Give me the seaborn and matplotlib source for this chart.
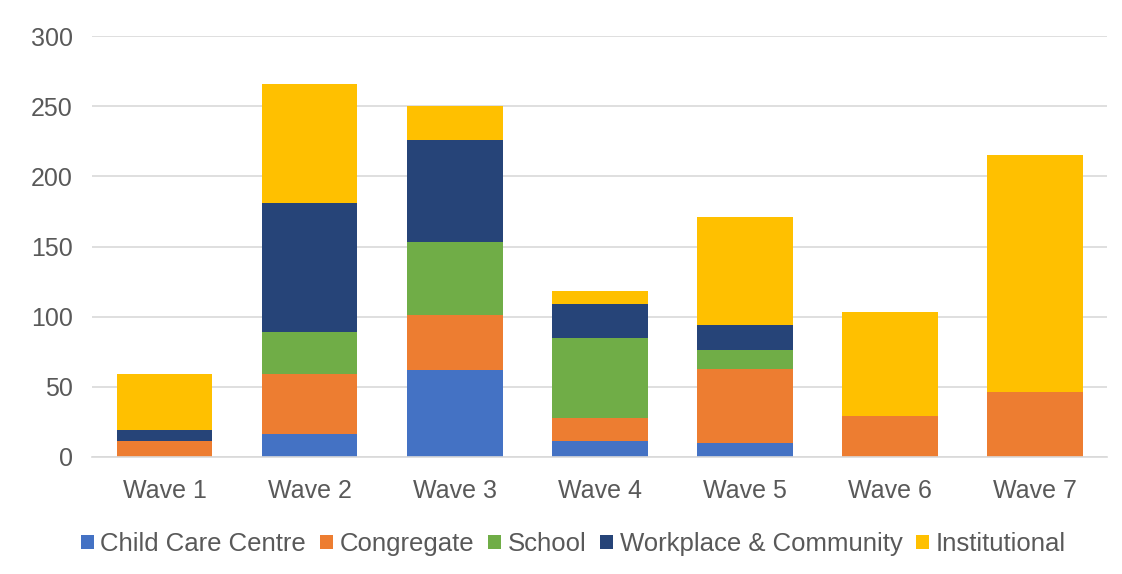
import numpy as np
import pandas as pd
import matplotlib
matplotlib.use("Agg")
import matplotlib.pyplot as plt
import seaborn as sns

# Values (outbreaks per wave by setting)
waves = ["Wave 1", "Wave 2", "Wave 3", "Wave 4", "Wave 5", "Wave 6", "Wave 7"]
child_care = [0, 16, 62, 11, 10, 0, 0]
congregate = [11, 43, 39, 17, 53, 29, 46]
school = [0, 30, 52, 57, 13, 0, 0]
workplace = [8, 92, 73, 24, 18, 0, 0]
institutional = [40, 85, 24, 9, 77, 74, 169]

series_names = ["Child Care Centre", "Congregate", "School",
                "Workplace & Community", "Institutional"]
colors = ["#4472C4", "#ED7D31", "#70AD47", "#264478", "#FFC000"]

sns.set_theme(style="white")
plt.rcParams["font.family"] = ["Liberation Sans", "DejaVu Sans"]

fig = plt.figure(figsize=(11.22, 5.74), dpi=100)
ax = fig.add_axes([0.082, 0.204, 0.905, 0.733])

bottom = np.zeros(len(waves))
for name, vals, col in zip(series_names,
                           [child_care, congregate, school, workplace, institutional],
                           colors):
    df = pd.DataFrame({"wave": waves, "value": vals})
    sns.barplot(data=df, x="wave", y="value", color=col, label=name,
                bottom=bottom, width=0.66, errorbar=None, ax=ax,
                saturation=1, linewidth=0)
    bottom = bottom + np.array(vals)

ax.set_ylim(0, 300)
ax.set_yticks(range(0, 301, 50))
ax.set_xlim(-0.5, len(waves) - 0.5)
ax.yaxis.grid(True, color="#D9D9D9", linewidth=1.2)
ax.set_axisbelow(True)
for s in ["top", "right", "left"]:
    ax.spines[s].set_visible(False)
ax.spines["bottom"].set_color("#D9D9D9")
ax.spines["bottom"].set_linewidth(1.2)
ax.set_xlabel("")
ax.set_ylabel("")
ax.tick_params(axis="both", length=0, labelsize=18, colors="#595959")
ax.tick_params(axis="x", pad=16)
ax.tick_params(axis="y", pad=14)

handles, labels = ax.get_legend_handles_labels()
if ax.get_legend():
    ax.get_legend().remove()
fig.legend(handles, labels, loc="center", bbox_to_anchor=(0.511, 0.052),
           ncol=5, frameon=False, fontsize=18.5, labelcolor="#595959",
           handlelength=0.5, handleheight=0.5, handletextpad=0.25,
           columnspacing=0.55)

fig.savefig("out.png", dpi=100, facecolor="white")
